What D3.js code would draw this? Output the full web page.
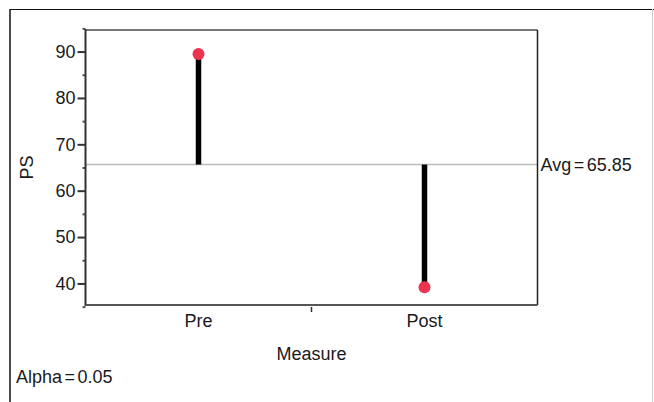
<!DOCTYPE html>
<html><head><meta charset="utf-8">
<script src="https://cdn.jsdelivr.net/npm/d3@7"></script>
<style>body{margin:0;background:#fff;} svg{display:block;font-family:"Liberation Sans",Arial,sans-serif;}</style>
</head><body>
<script>
const categories = ["Pre", "Post"];
const values = [89.5, 39.2];
const average = 65.85;
const majorTicks = [40, 50, 60, 70, 80, 90];
const minorTicks = [35, 45, 55, 65, 75, 85, 95];
const yTitle = "PS", xTitle = "Measure", avgLabel = "Avg = 65.85", alphaLabel = "Alpha = 0.05";

const W = 654, H = 402, FS = 18;
const L = 85.5, R = 537.5, T = 30, B = 305;
const svg = d3.select("body").append("svg").attr("width", W).attr("height", H);

// outer frame
svg.append("line").attr("x1",10).attr("x2",10).attr("y1",9).attr("y2",H).attr("stroke","#111").attr("stroke-width",1.5);
svg.append("line").attr("x1",10).attr("x2",W).attr("y1",9.5).attr("y2",9.5).attr("stroke","#111").attr("stroke-width",1.2);
svg.append("line").attr("x1",652.5).attr("x2",652.5).attr("y1",9).attr("y2",H).attr("stroke","#ccc").attr("stroke-width",1);

const y = d3.scaleLinear().domain([35.35, 94.65]).range([B, T]);
const x = d3.scaleBand().domain(categories).range([L, R]).padding(0);

// avg line
svg.append("line").attr("x1",L).attr("x2",R).attr("y1",y(average)+1).attr("y2",y(average)+1).attr("stroke","#bbb").attr("stroke-width",1.5);

// plot frame
svg.append("line").attr("x1",L).attr("x2",R).attr("y1",T).attr("y2",T).attr("stroke","#777").attr("stroke-width",2);
svg.append("line").attr("x1",R).attr("x2",R).attr("y1",T).attr("y2",B).attr("stroke","#222").attr("stroke-width",1.5);

// y axis
const yAxis = d3.axisLeft(y).tickValues(majorTicks).tickSize(8).tickPadding(2);
const gy = svg.append("g").attr("transform",`translate(${L},0)`).call(yAxis);
gy.select(".domain").remove();
gy.selectAll(".tick line").attr("stroke","#333").attr("stroke-width",2);
gy.selectAll(".tick text").attr("font-size",FS).attr("fill","#1a1a1a").attr("font-family","Liberation Sans, Arial, sans-serif");
const yMinor = d3.axisLeft(y).tickValues(minorTicks).tickSize(3).tickFormat("");
const gym = svg.append("g").attr("transform",`translate(${L},0)`).call(yMinor);
gym.select(".domain").remove();
gym.selectAll(".tick line").attr("stroke","#555").attr("stroke-width",2);
svg.append("line").attr("x1",L).attr("x2",L).attr("y1",T-1).attr("y2",B+1).attr("stroke","#333").attr("stroke-width",2);

// x axis
const xAxis = d3.axisBottom(x).tickSize(0).tickPadding(9);
const gx = svg.append("g").attr("transform",`translate(0,${B})`).call(xAxis);
gx.select(".domain").remove();
gx.selectAll(".tick text").attr("font-size",FS).attr("fill","#1a1a1a").attr("font-family","Liberation Sans, Arial, sans-serif");
svg.append("line").attr("x1",L).attr("x2",R).attr("y1",B).attr("y2",B).attr("stroke","#555").attr("stroke-width",2);
svg.append("line").attr("x1",(L+R)/2).attr("x2",(L+R)/2).attr("y1",B+2).attr("y2",B+7).attr("stroke","#333").attr("stroke-width",1.5);

// stems
svg.selectAll(".stem").data(categories).enter().append("line")
  .attr("x1",d=>x(d)+x.bandwidth()/2).attr("x2",d=>x(d)+x.bandwidth()/2)
  .attr("y1",y(average)+1).attr("y2",(d,i)=>y(values[i]))
  .attr("stroke","#000").attr("stroke-width",5.5);
// points
svg.selectAll(".pt").data(categories).enter().append("circle")
  .attr("cx",d=>x(d)+x.bandwidth()/2).attr("cy",(d,i)=>y(values[i])).attr("r",6)
  .attr("fill","#ec3350");

// labels
svg.append("text").attr("x",R+3).attr("y",y(average)+7).attr("font-size",FS).attr("word-spacing",-2.5).attr("fill","#1a1a1a").text(avgLabel);
svg.append("text").attr("transform",`translate(33,${(T+B)/2}) rotate(-90)`).attr("text-anchor","middle").attr("font-size",FS).attr("fill","#1a1a1a").text(yTitle);
svg.append("text").attr("x",(L+R)/2).attr("y",360).attr("text-anchor","middle").attr("font-size",FS).attr("fill","#1a1a1a").text(xTitle);
svg.append("text").attr("x",16).attr("y",383).attr("font-size",FS).attr("word-spacing",-2.5).attr("fill","#1a1a1a").text(alphaLabel);
</script>
</body></html>
